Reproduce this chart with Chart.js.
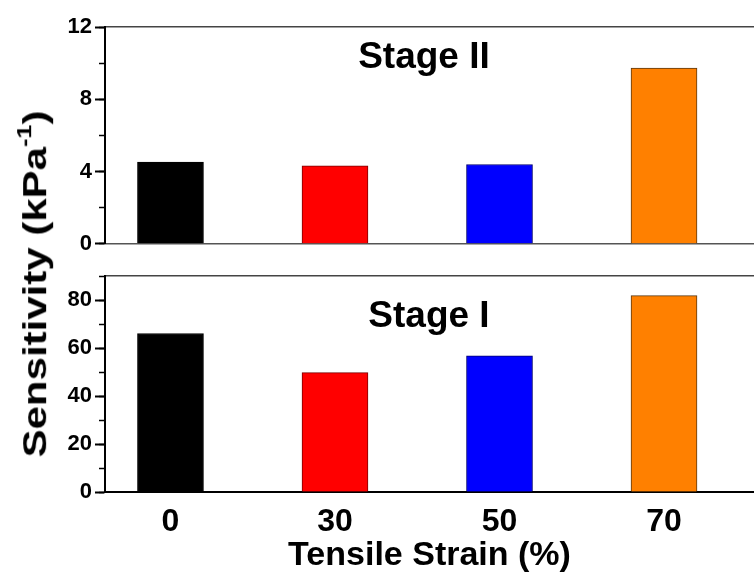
<!DOCTYPE html>
<html>
<head>
<meta charset="utf-8">
<script src="https://cdn.jsdelivr.net/npm/chart.js@4"></script>
<style>
  body { margin: 0; background: #fff; }
  #wrap { position: relative; width: 754px; height: 575px; overflow: hidden;
          font-family: 'Liberation Sans', Arial, sans-serif; }
  canvas { position: absolute; left: 0; }
  #topChart { top: 0; }
  #botChart { top: 260px; }
  .lbl { position: absolute; font-weight: bold; color: #000; white-space: nowrap; line-height: 1; }
  #stage2 { left: 424px; top: 37px; font-size: 37px; transform: translateX(-50%); }
  #stage1 { left: 429px; top: 296px; font-size: 37px; transform: translateX(-50%); }
  #ytitle { left: 33px; top: 284px; font-size: 42px;
            transform: translate(-50%, -50%) rotate(-90deg) scale(1, 0.8); }
  #ytitle sup { font-size: 0.6em; vertical-align: 0.7em; }
</style>
</head>
<body>
<div id="wrap">
  <canvas id="topChart" width="754" height="260"></canvas>
  <canvas id="botChart" width="754" height="315"></canvas>
  <div class="lbl" id="stage2">Stage II</div>
  <div class="lbl" id="stage1">Stage I</div>
  <div class="lbl" id="ytitle">Sensitivity (kPa<sup>-1</sup>)</div>
</div>
<script>
// tensile strain categories, placed at equal spacing
const strainLabels = ['0', '30', '50', '70'];
const strainPos = [0, 1, 2, 3];

// sensitivity values (kPa^-1)
const stage2Values = [4.52, 4.31, 4.39, 9.72];
const stage1Values = [66.1, 49.8, 56.8, 81.9];

const barColors = ['#000000', '#ff0000', '#0000ff', '#ff8000'];
const barEdges = ['#000000', '#7a0000', '#00006e', '#5a3812'];

const X_MIN = -0.398, X_MAX = 3.547;
const FONT = "'Liberation Sans', Arial, sans-serif";

function makePanel(canvas, values, yMax, majorStep, minorStep, bottom) {
  return new Chart(canvas, {
    type: 'bar',
    data: {
      datasets: [{
        data: strainPos.map((x, i) => ({ x: x, y: values[i] })),
        backgroundColor: barColors,
        borderColor: barEdges,
        borderWidth: 1,
        barThickness: 66
      }]
    },
    options: {
      responsive: false,
      animation: false,
      events: [],
      layout: { padding: 0 },
      plugins: { legend: { display: false }, tooltip: { enabled: false } },
      scales: {
        x: {
          type: 'linear', position: 'bottom', min: X_MIN, max: X_MAX, offset: false,
          grid: { display: false, drawTicks: false },
          border: { display: true, color: bottom ? '#000' : '#555', width: bottom ? 2 : 1.5 },
          ticks: {
            display: bottom, stepSize: 1, includeBounds: false, autoSkip: false, maxRotation: 0,
            padding: 11, color: '#000', font: { family: FONT, size: 32, weight: 'bold' },
            callback: v => strainLabels[v] ?? ''
          },
          title: {
            display: bottom, text: 'Tensile Strain (%)', color: '#000',
            font: { family: FONT, size: 34, weight: 'bold', lineHeight: 1 },
            padding: { top: 0, bottom: 2 }
          },
          afterFit: s => { s.height = bottom ? 83 : 16; }
        },
        xTop: {
          type: 'linear', axis: 'x', position: 'top', min: X_MIN, max: X_MAX,
          grid: { display: false, drawTicks: false },
          border: { display: true, color: '#444', width: 1.5 },
          ticks: { display: false },
          afterFit: s => { s.height = bottom ? 15 : 27; }
        },
        y: {
          type: 'linear', position: 'left', min: 0, max: yMax, weight: 1,
          grid: { drawOnChartArea: false, drawTicks: true, tickLength: 10, tickColor: '#000', tickWidth: 2 },
          border: { display: true, color: '#000', width: 2 },
          ticks: {
            stepSize: majorStep, includeBounds: false, padding: 3, color: '#000',
            font: { family: FONT, size: 22, weight: 'bold' }
          },
          afterFit: s => { s.width = 105; }
        },
        yMinor: {
          type: 'linear', axis: 'y', position: 'left', min: 0, max: yMax, weight: 0,
          grid: { drawOnChartArea: false, drawTicks: true, tickLength: 6, tickColor: '#000', tickWidth: 1.5 },
          border: { display: false },
          ticks: { stepSize: minorStep, display: false },
          afterFit: s => { s.width = 0; }
        }
      }
    }
  });
}

makePanel(document.getElementById('topChart'), stage2Values, 12, 4, 2, false);
makePanel(document.getElementById('botChart'), stage1Values, 90, 20, 10, true);
</script>
</body>
</html>
